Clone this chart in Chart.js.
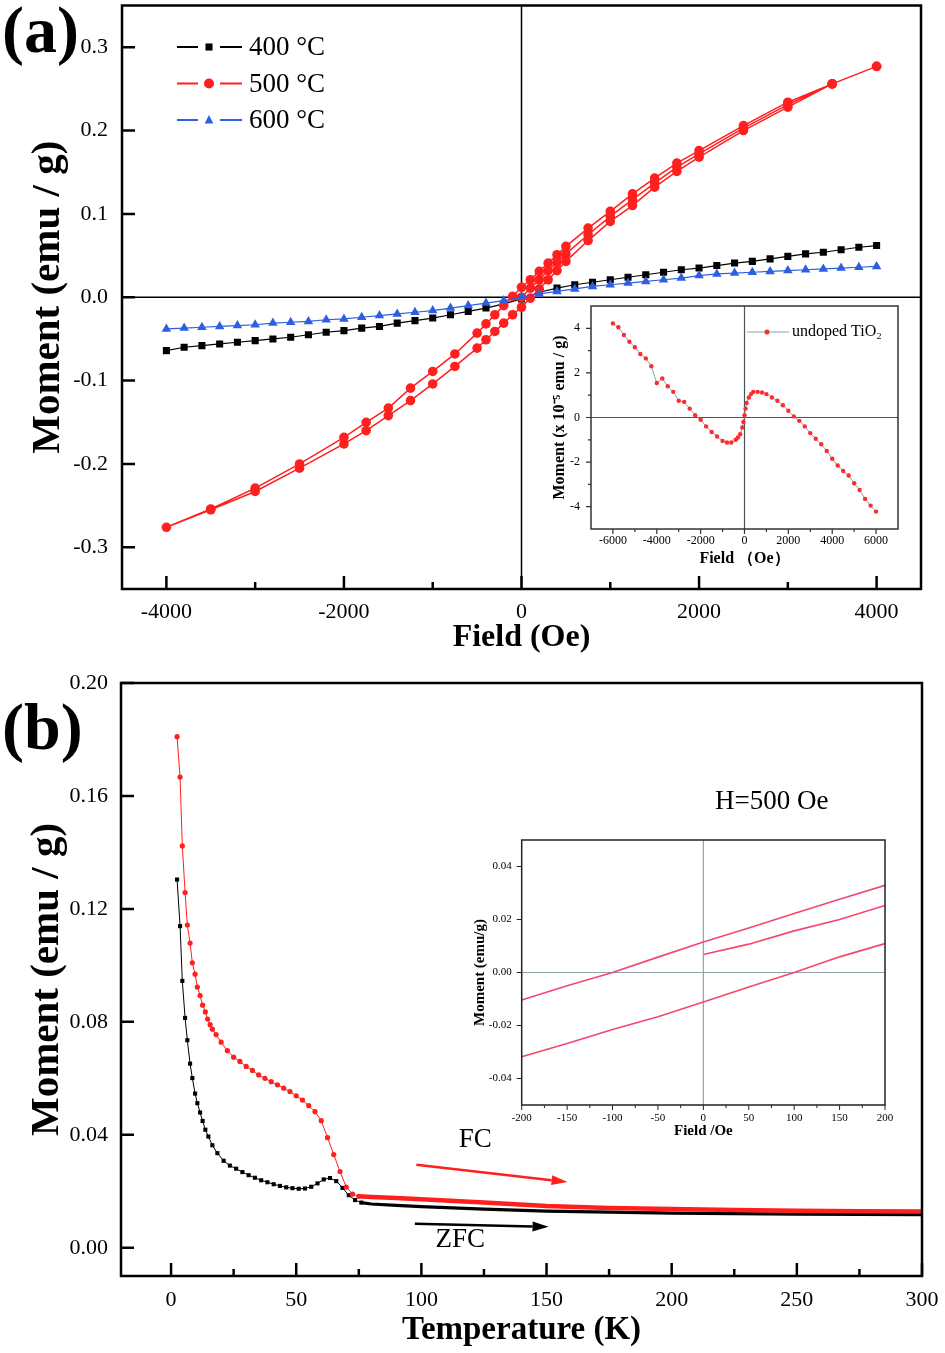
<!DOCTYPE html>
<html>
<head>
<meta charset="utf-8">
<script src="https://cdn.jsdelivr.net/npm/chart.js@4.4.1/dist/chart.umd.min.js"></script>
<style>
  html, body { margin: 0; padding: 0; background: #fff; }
  #page { position: relative; width: 945px; height: 1353px; overflow: hidden; }
  .box { position: absolute; }
</style>
</head>
<body>
<div id="page">
  <div class="box" style="left:0;top:0;width:945px;height:660px"><canvas id="chartA"></canvas></div>
  <div class="box" style="left:0;top:660px;width:945px;height:693px"><canvas id="chartB"></canvas></div>
  <div class="box" style="left:540px;top:300px;width:380px;height:280px"><canvas id="insetA"></canvas></div>
  <div class="box" style="left:460px;top:830px;width:450px;height:312px"><canvas id="insetB"></canvas></div>
</div>
<script>
const SERIF = "'Liberation Serif', 'Times New Roman', serif";
Chart.defaults.font.family = SERIF;
Chart.defaults.color = '#000';
Chart.defaults.animation = false;

// (a) M-H loops, field in Oe, moment in emu/g
const aField = [-4000, -3800, -3600, -3400, -3200, -3000, -2800, -2600, -2400, -2200, -2000,
  -1800, -1600, -1400, -1200, -1000, -800, -600, -400, -200, 0, 200, 400, 600, 800, 1000,
  1200, 1400, 1600, 1800, 2000, 2200, 2400, 2600, 2800, 3000, 3200, 3400, 3600, 3800, 4000];
const a400 = [-0.064, -0.060, -0.058, -0.056, -0.054, -0.052, -0.050, -0.048, -0.045, -0.042, -0.040,
  -0.037, -0.035, -0.031, -0.028, -0.025, -0.021, -0.017, -0.013, -0.008, -0.002, 0.006, 0.011, 0.015, 0.018, 0.021,
  0.024, 0.027, 0.030, 0.033, 0.035, 0.038, 0.041, 0.043, 0.046, 0.049, 0.052, 0.054, 0.057, 0.060, 0.062];
const a600 = [-0.038, -0.037, -0.036, -0.035, -0.034, -0.033, -0.031, -0.030, -0.029, -0.027, -0.026,
  -0.024, -0.022, -0.020, -0.018, -0.016, -0.013, -0.010, -0.007, -0.004, 0.000, 0.004, 0.007, 0.010, 0.013, 0.015,
  0.017, 0.019, 0.021, 0.023, 0.026, 0.028, 0.029, 0.030, 0.031, 0.032, 0.033, 0.034, 0.035, 0.036, 0.037];
const a500VirginH = [0, 100, 200, 300, 400, 500, 750, 1000, 1250, 1500, 1750, 2000, 2500, 3000, 3500, 4000];
const a500VirginM = [0.000, 0.011, 0.021, 0.032, 0.042, 0.052, 0.075, 0.097, 0.117, 0.137, 0.156, 0.172, 0.203, 0.231, 0.256, 0.277];
const a500DownH = [3500, 3000, 2500, 2000, 1750, 1500, 1250, 1000, 750, 500, 400, 300, 200, 100, 0,
  -100, -200, -300, -400, -500, -750, -1000, -1250, -1500, -1750, -2000, -2500, -3000, -3500, -4000];
const a500DownM = [0.256, 0.234, 0.206, 0.176, 0.161, 0.143, 0.124, 0.103, 0.083, 0.061, 0.051, 0.041, 0.031, 0.021, 0.012,
  0.001, -0.010, -0.021, -0.032, -0.043, -0.068, -0.089, -0.109, -0.133, -0.150, -0.168, -0.200, -0.229, -0.254, -0.276];
const a500UpH = [-3500, -3000, -2500, -2000, -1750, -1500, -1250, -1000, -750, -500, -400, -300, -200, -100, 0,
  100, 200, 300, 400, 500, 750, 1000, 1250, 1500, 1750, 2000, 2500, 3000, 3500, 4000];
const a500UpM = [-0.255, -0.233, -0.205, -0.176, -0.160, -0.142, -0.124, -0.104, -0.083, -0.061, -0.051, -0.041, -0.031, -0.021, -0.012,
  -0.001, 0.010, 0.021, 0.032, 0.043, 0.068, 0.091, 0.110, 0.132, 0.151, 0.168, 0.200, 0.228, 0.256, 0.277];
const aLabels = ['400 °C', '500 °C', '600 °C'];
const aXTicks = [-4000, -3000, -2000, -1000, 0, 1000, 2000, 3000, 4000];
const aXLabels = [-4000, -2000, 0, 2000, 4000];
const aYTicks = [-0.3, -0.2, -0.1, 0, 0.1, 0.2, 0.3];

// inset of (a): undoped TiO2, moment in 1e-5 emu/g
const tioField = [-6000, -5750, -5500, -5250, -5000, -4750, -4500, -4250, -4000, -3750, -3500, -3250, -3000, -2750, -2500,
  -2250, -2000, -1750, -1500, -1250, -1000, -800, -600, -400, -300, -200, -100, -50, 0, 50,
  100, 200, 300, 400, 600, 800, 1000, 1250, 1500, 1750, 2000, 2250, 2500, 2750, 3000,
  3250, 3500, 3750, 4000, 4250, 4500, 4750, 5000, 5250, 5500, 5750, 6000];
const tioMoment = [4.22, 4.05, 3.70, 3.40, 3.15, 2.85, 2.65, 2.30, 1.55, 1.75, 1.40, 1.15, 0.75, 0.70, 0.40,
  0.10, -0.10, -0.40, -0.65, -0.85, -1.05, -1.12, -1.12, -1.00, -0.90, -0.75, -0.45, -0.20, 0.10, 0.40,
  0.65, 0.90, 1.05, 1.15, 1.15, 1.12, 1.05, 0.90, 0.75, 0.55, 0.30, 0.05, -0.15, -0.40, -0.70,
  -0.95, -1.20, -1.50, -1.85, -2.15, -2.40, -2.60, -2.95, -3.25, -3.65, -3.95, -4.22];
const tioLabel = 'undoped TiO₂';
const iaXTicks = [-6000, -5000, -4000, -3000, -2000, -1000, 0, 1000, 2000, 3000, 4000, 5000, 6000];
const iaXLabels = [-6000, -4000, -2000, 0, 2000, 4000, 6000];
const iaYTicks = [-4, -3, -2, -1, 0, 1, 2, 3, 4];
const iaYLabels = [-4, -2, 0, 2, 4];

// (b) ZFC / FC, temperature in K
const zfcT = [2.4, 3.6, 4.5, 5.6, 6.5, 7.6, 8.5, 9.6, 10.5, 11.6, 12.6, 13.7, 14.9, 16.5,
  18.5, 21, 23.5, 26, 28.5, 31, 33.5, 36, 38.5, 41, 43.5, 46, 48.5, 51, 53.5,
  56, 58.5, 61, 63.5, 66, 68.5, 71, 73.5, 76, 80, 90, 100, 125, 150, 175, 200, 225, 250, 275, 300];
const zfcM = [0.1304, 0.1139, 0.0945, 0.0814, 0.0735, 0.0652, 0.0601, 0.0546, 0.0512, 0.0479, 0.0449, 0.0418, 0.0394, 0.0363,
  0.0335, 0.0308, 0.0291, 0.0280, 0.0268, 0.0257, 0.0248, 0.0239, 0.0232, 0.0225, 0.0219, 0.0214, 0.0211, 0.0209, 0.0210,
  0.0216, 0.0228, 0.0242, 0.0247, 0.0236, 0.0212, 0.0186, 0.0169, 0.0160, 0.0155, 0.0150, 0.0146, 0.0137, 0.0130, 0.0126,
  0.0123, 0.0121, 0.0119, 0.0118, 0.0117];
const fcT = [2.4, 3.6, 4.5, 5.6, 6.5, 7.6, 8.5, 9.6, 10.5, 11.6, 12.6, 13.7, 14.6, 15.6, 16.5,
  18, 20, 22.5, 25, 27.5, 30, 32.5, 35, 37.5, 40, 42.5, 45, 47.5, 50, 52.5,
  55, 57.5, 60, 62.5, 65, 67.5, 70, 72.5, 75, 80, 90, 100, 125, 150, 175, 200, 225, 250, 275, 300];
const fcM = [0.181, 0.1667, 0.1423, 0.1258, 0.1143, 0.1079, 0.1009, 0.0969, 0.0923, 0.0893, 0.0859, 0.0835, 0.0810, 0.0790, 0.0774,
  0.0755, 0.0728, 0.0698, 0.0675, 0.0660, 0.0642, 0.0628, 0.0612, 0.0600, 0.0588, 0.0577, 0.0565, 0.0553, 0.0538, 0.0523,
  0.0503, 0.0482, 0.0450, 0.0390, 0.0330, 0.0270, 0.0215, 0.0190, 0.0182, 0.0180, 0.0176, 0.0172, 0.0160, 0.0148, 0.0141,
  0.0137, 0.0134, 0.0131, 0.0129, 0.0128];
const bXTicks = [0, 25, 50, 75, 100, 125, 150, 175, 200, 225, 250, 275, 300];
const bXLabels = [0, 50, 100, 150, 200, 250, 300];
const bYTicks = [0, 0.04, 0.08, 0.12, 0.16, 0.2];

// inset of (b): low-field loop
const ibUpperH = [-200, -150, -100, -50, 0, 50, 100, 150, 200];
const ibUpperM = [-0.0104, -0.0050, 0.0000, 0.0058, 0.0115, 0.0168, 0.0223, 0.0276, 0.0329];
const ibVirginH = [0, 50, 100, 150, 200];
const ibVirginM = [0.0068, 0.0107, 0.0157, 0.0200, 0.0253];
const ibLowerH = [-200, -150, -100, -50, 0, 50, 100, 150, 200];
const ibLowerM = [-0.0318, -0.0268, -0.0215, -0.0167, -0.0111, -0.0055, 0.0000, 0.0059, 0.0109];
const ibXTicks = [-200, -175, -150, -125, -100, -75, -50, -25, 0, 25, 50, 75, 100, 125, 150, 175, 200];
const ibXLabels = [-200, -150, -100, -50, 0, 50, 100, 150, 200];
const ibYTicks = [-0.04, -0.02, 0, 0.02, 0.04];

const RED = '#ff1f1f';
const BLUE = '#2d5fe0';

const pts = (xs, ys) => xs.map((v, i) => ({x: v, y: ys[i]}));

function axis(o) {
  return {
    type: 'linear', position: o.pos, min: o.min, max: o.max,
    grid: {display: false, drawTicks: false},
    border: {display: false},
    afterBuildTicks: s => { s.ticks = o.ticks.map(v => ({value: v})); },
    afterFit: s => {
      if (o.pos === 'left') s.width = o.size; else s.height = o.size;
      // keep the plot box where the layout padding puts it
      s.paddingTop = 0; s.paddingBottom = 0; s.paddingLeft = 0; s.paddingRight = 0;
    },
    ticks: {
      autoSkip: false, maxRotation: 0, padding: o.pad, font: {size: o.fs},
      callback: v => (o.labels || o.ticks).includes(v) ? o.fmt(v) : ''
    },
    title: {display: true, text: o.title, font: {size: o.tfs, weight: 'bold'}, padding: o.tpad}
  };
}

function marker(ctx, style, x, y, r, color) {
  ctx.fillStyle = color;
  ctx.beginPath();
  if (style === 'rect') {
    const s = r * Math.SQRT1_2;
    ctx.rect(x - s, y - s, 2 * s, 2 * s);
  } else if (style === 'triangle') {
    ctx.moveTo(x, y - r);
    ctx.lineTo(x + r * 0.866, y + r * 0.5 + 1);
    ctx.lineTo(x - r * 0.866, y + r * 0.5 + 1);
    ctx.closePath();
  } else {
    ctx.arc(x, y, r, 0, Math.PI * 2);
  }
  ctx.fill();
}

// frame, inward/outward tick marks, zero lines and free text
function decor(spec) {
  return {
    id: 'decor',
    beforeDatasetsDraw(chart) {
      if (!spec.zero) return;
      const {ctx, chartArea: a, scales: {x, y}} = chart;
      const x0 = x.getPixelForValue(0), y0 = y.getPixelForValue(0);
      ctx.save();
      ctx.strokeStyle = spec.zero.color;
      ctx.lineWidth = spec.zero.width;
      ctx.beginPath();
      ctx.moveTo(a.left, y0); ctx.lineTo(a.right, y0);
      ctx.moveTo(x0, a.top); ctx.lineTo(x0, a.bottom);
      ctx.stroke();
      ctx.restore();
    },
    afterDraw(chart) {
      const {ctx, chartArea: a, scales: {x, y}} = chart;
      ctx.save();
      ctx.strokeStyle = spec.frameColor;
      ctx.lineWidth = spec.frame;
      ctx.strokeRect(a.left, a.top, a.right - a.left, a.bottom - a.top);
      const dir = spec.inward ? -1 : 1;
      ctx.lineWidth = spec.tickWidth;
      ctx.beginPath();
      x.ticks.forEach(t => {
        const px = x.getPixelForValue(t.value);
        const len = t.label ? spec.major : spec.minor;
        ctx.moveTo(px, a.bottom); ctx.lineTo(px, a.bottom + dir * len);
      });
      y.ticks.forEach(t => {
        const py = y.getPixelForValue(t.value);
        const len = t.label ? spec.major : spec.minor;
        ctx.moveTo(a.left, py); ctx.lineTo(a.left - dir * len, py);
      });
      ctx.stroke();
      ctx.restore();
      if (spec.extra) { ctx.save(); spec.extra(chart); ctx.restore(); }
    }
  };
}

const baseOpts = (pad) => ({
  responsive: true,
  maintainAspectRatio: false,
  layout: {padding: pad},
  plugins: {legend: {display: false}, tooltip: {enabled: false}}
});

// ---------- (a) ----------
new Chart(document.getElementById('chartA'), {
  type: 'scatter',
  data: {
    datasets: [
      {label: aLabels[0], data: pts(aField, a400), showLine: true, order: 2,
        borderColor: '#000', backgroundColor: '#000', borderWidth: 1.2,
        pointStyle: 'rect', pointRadius: 5, pointBorderWidth: 0},
      {label: aLabels[1], showLine: true, order: 1,
        data: pts(a500VirginH, a500VirginM).concat(pts(a500DownH, a500DownM), pts(a500UpH, a500UpM)),
        borderColor: RED, backgroundColor: RED, borderWidth: 1.5,
        pointStyle: 'circle', pointRadius: 4.8, pointBorderWidth: 0},
      {label: aLabels[2], data: pts(aField, a600), showLine: true, order: 0,
        borderColor: BLUE, backgroundColor: BLUE, borderWidth: 1.2,
        pointStyle: 'triangle', pointRadius: 5.5, pointBorderWidth: 0}
    ]
  },
  options: Object.assign(baseOpts({left: 0, top: 5, right: 24, bottom: 0}), {
    scales: {
      x: axis({pos: 'bottom', min: -4500, max: 4500, ticks: aXTicks, labels: aXLabels, fmt: v => String(v),
        size: 71, pad: 10, fs: 22, title: 'Field (Oe)', tfs: 32, tpad: {top: 0, bottom: 3}}),
      y: axis({pos: 'left', min: -0.35, max: 0.35, ticks: aYTicks, fmt: v => v.toFixed(1),
        size: 122, pad: 14, fs: 22, title: 'Moment (emu / g)', tfs: 41, tpad: {top: 24, bottom: 0}})
    }
  }),
  plugins: [decor({
    frame: 2.5, frameColor: '#000', tickWidth: 2.5, major: 13, minor: 7, inward: true,
    zero: {color: '#000', width: 1.5},
    extra(chart) {
      const ctx = chart.ctx;
      ctx.fillStyle = '#000';
      ctx.font = 'bold 66px ' + SERIF;
      ctx.textAlign = 'left';
      ctx.textBaseline = 'alphabetic';
      ctx.fillText('(a)', 2, 52);
      chart.data.datasets.forEach((ds, i) => {
        const yy = 47 + i * 36.5;
        ctx.strokeStyle = ds.borderColor;
        ctx.lineWidth = 2;
        ctx.beginPath();
        ctx.moveTo(177, yy); ctx.lineTo(198, yy);
        ctx.moveTo(220, yy); ctx.lineTo(242, yy);
        ctx.stroke();
        marker(ctx, ds.pointStyle, 209, yy, 5, ds.backgroundColor);
        ctx.fillStyle = '#000';
        ctx.font = '27px ' + SERIF;
        ctx.textBaseline = 'middle';
        ctx.fillText(ds.label, 249, yy + 1);
      });
    }
  })]
});

// ---------- inset (a) ----------
new Chart(document.getElementById('insetA'), {
  type: 'scatter',
  data: {
    datasets: [
      {label: tioLabel, data: pts(tioField, tioMoment), showLine: true,
        borderColor: '#8fa3a8', borderWidth: 1, backgroundColor: '#ff2a2a',
        pointRadius: 2.2, pointBorderWidth: 0}
    ]
  },
  options: Object.assign(baseOpts({left: 0, top: 6, right: 22, bottom: 0}), {
    scales: {
      x: axis({pos: 'bottom', min: -7000, max: 7000, ticks: iaXTicks, labels: iaXLabels, fmt: v => String(v),
        size: 51, pad: 5, fs: 12, title: 'Field （Oe）', tfs: 16, tpad: {top: 0, bottom: 12}}),
      y: axis({pos: 'left', min: -5, max: 5, ticks: iaYTicks, labels: iaYLabels, fmt: v => String(v),
        size: 51, pad: 11, fs: 12, title: 'Moment (x 10⁻⁵ emu / g)', tfs: 16, tpad: {top: 10, bottom: 0}})
    }
  }),
  plugins: [decor({
    frame: 1.5, frameColor: '#333', tickWidth: 1.2, major: 5, minor: 3, inward: false,
    zero: {color: '#4a5558', width: 1.2},
    extra(chart) {
      const ctx = chart.ctx;
      const ds = chart.data.datasets[0];
      ctx.strokeStyle = ds.borderColor;
      ctx.lineWidth = 1;
      ctx.beginPath(); ctx.moveTo(207, 32); ctx.lineTo(249, 32); ctx.stroke();
      marker(ctx, 'circle', 227, 32, 2.5, ds.backgroundColor);
      ctx.fillStyle = '#000';
      ctx.font = '16px ' + SERIF;
      ctx.textAlign = 'left';
      ctx.textBaseline = 'middle';
      ctx.fillText(ds.label, 252, 32);
    }
  })]
});

// ---------- (b) ----------
const bNotes = [
  {text: 'FC', x: 121.5, y: 0.0382, size: 27},
  {text: 'ZFC', x: 115.5, y: 0.0028, size: 27},
  {text: 'H=500 Oe', x: 240, y: 0.158, size: 27}
];
const bArrows = [
  {x1: 98, y1: 0.0294, x2: 158.4, y2: 0.0233, color: RED},
  {x1: 97.4, y1: 0.0085, x2: 150.8, y2: 0.0074, color: '#000'}
];

new Chart(document.getElementById('chartB'), {
  type: 'scatter',
  data: {
    datasets: [
      {label: 'ZFC', data: pts(zfcT, zfcM), showLine: true, order: 1,
        borderColor: '#000', backgroundColor: '#000', borderWidth: 1,
        segment: {borderWidth: c => c.p0.parsed.x >= 75 ? 3.2 : 1},
        pointStyle: 'rect', pointRadius: c => (c.raw && c.raw.x > 77) ? 0 : 2.9, pointBorderWidth: 0},
      {label: 'FC', data: pts(fcT, fcM), showLine: true, order: 0,
        borderColor: RED, backgroundColor: RED, borderWidth: 1,
        segment: {borderWidth: c => c.p0.parsed.x >= 75 ? 4.5 : 1},
        pointStyle: 'circle', pointRadius: c => (c.raw && c.raw.x > 77) ? 0 : 2.6, pointBorderWidth: 0}
    ]
  },
  options: Object.assign(baseOpts({left: 0, top: 23, right: 23, bottom: 0}), {
    scales: {
      x: axis({pos: 'bottom', min: -20, max: 300, ticks: bXTicks, labels: bXLabels, fmt: v => String(v),
        size: 77, pad: 11, fs: 22, title: 'Temperature (K)', tfs: 33, tpad: {top: 0, bottom: 3}}),
      y: axis({pos: 'left', min: -0.01, max: 0.2, ticks: bYTicks, fmt: v => v.toFixed(2),
        size: 121, pad: 13, fs: 22, title: 'Moment (emu / g)', tfs: 41, tpad: {top: 23, bottom: 0}})
    }
  }),
  plugins: [decor({
    frame: 2.5, frameColor: '#000', tickWidth: 2.5, major: 13, minor: 7, inward: true,
    extra(chart) {
      const {ctx, scales: {x, y}} = chart;
      ctx.fillStyle = '#000';
      ctx.font = 'bold 66px ' + SERIF;
      ctx.textAlign = 'left';
      ctx.textBaseline = 'alphabetic';
      ctx.fillText('(b)', 2, 89);
      ctx.textAlign = 'center';
      ctx.textBaseline = 'middle';
      bNotes.forEach(n => {
        ctx.font = n.size + 'px ' + SERIF;
        ctx.fillText(n.text, x.getPixelForValue(n.x), y.getPixelForValue(n.y));
      });
      bArrows.forEach(ar => {
        const x1 = x.getPixelForValue(ar.x1), y1 = y.getPixelForValue(ar.y1);
        const x2 = x.getPixelForValue(ar.x2), y2 = y.getPixelForValue(ar.y2);
        const ang = Math.atan2(y2 - y1, x2 - x1), head = 16, half = 5;
        const bx = x2 - head * Math.cos(ang), by = y2 - head * Math.sin(ang);
        ctx.strokeStyle = ar.color;
        ctx.fillStyle = ar.color;
        ctx.lineWidth = 2.5;
        ctx.beginPath(); ctx.moveTo(x1, y1); ctx.lineTo(bx, by); ctx.stroke();
        ctx.beginPath();
        ctx.moveTo(x2, y2);
        ctx.lineTo(bx + half * Math.sin(ang), by - half * Math.cos(ang));
        ctx.lineTo(bx - half * Math.sin(ang), by + half * Math.cos(ang));
        ctx.closePath();
        ctx.fill();
      });
    }
  })]
});

// ---------- inset (b) ----------
const PINK = '#f5466e';
new Chart(document.getElementById('insetB'), {
  type: 'scatter',
  data: {
    datasets: [
      {label: 'upper', data: pts(ibUpperH, ibUpperM), showLine: true, borderColor: PINK, borderWidth: 1.6, pointRadius: 0},
      {label: 'virgin', data: pts(ibVirginH, ibVirginM), showLine: true, borderColor: PINK, borderWidth: 1.6, pointRadius: 0},
      {label: 'lower', data: pts(ibLowerH, ibLowerM), showLine: true, borderColor: PINK, borderWidth: 1.6, pointRadius: 0}
    ]
  },
  options: Object.assign(baseOpts({left: 0, top: 10, right: 25, bottom: 0}), {
    scales: {
      x: axis({pos: 'bottom', min: -200, max: 200, ticks: ibXTicks, labels: ibXLabels, fmt: v => String(v),
        size: 37, pad: 7, fs: 11, title: 'Field /Oe', tfs: 15, tpad: {top: 0, bottom: 2}}),
      y: axis({pos: 'left', min: -0.05, max: 0.05, ticks: ibYTicks, fmt: v => v.toFixed(2),
        size: 61.7, pad: 10, fs: 11, title: 'Moment (emu/g)', tfs: 15, tpad: {top: 11, bottom: 0}})
    }
  }),
  plugins: [decor({
    frame: 1.5, frameColor: '#222', tickWidth: 1, major: 5, minor: 3, inward: false,
    zero: {color: '#93a4aa', width: 1.2}
  })]
});
</script>
</body>
</html>
